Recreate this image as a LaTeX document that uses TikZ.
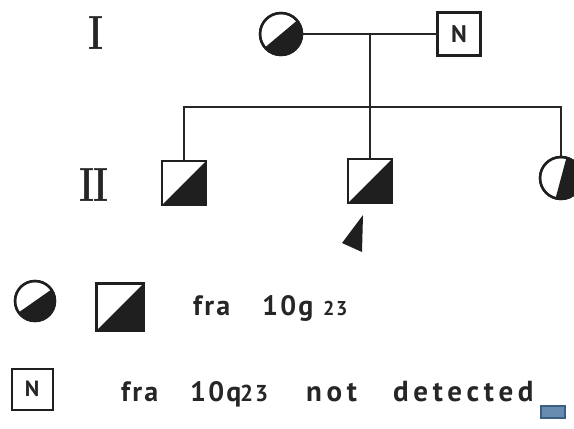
\documentclass[tikz,border=0pt]{standalone}
\usepackage{fontspec}
\newfontfamily\lgfont{PT Sans}[LetterSpace=8]
\newfontfamily\lgwide{PT Sans}[LetterSpace=16]
\definecolor{markfill}{RGB}{104,140,176}
\definecolor{markline}{RGB}{60,96,132}
\begin{document}
\begin{tikzpicture}[x=1pt,y=-1pt,
  ink/.style={black!88},
  sq/.style={draw=black!88,line width=2.4pt,minimum size=44pt,inner sep=0pt,outer sep=0pt},
  circ/.style={draw=black!88,line width=2.4pt,circle,minimum size=42pt,inner sep=0pt,outer sep=0pt},
  conn/.style={draw=black!85,line width=1.8pt},
  lbl/.style={font=\lgfont\bfseries\fontsize{28}{30}\selectfont,text=black!85,anchor=base west,inner sep=0pt},
  lbw/.style={font=\lgwide\bfseries\fontsize{29}{30}\selectfont,text=black!85,anchor=base west,inner sep=0pt},
  sml/.style={font=\lgfont\bfseries\fontsize{20}{22}\selectfont,text=black!85,anchor=base west,inner sep=0pt},
  gen/.style={font=\bfseries\fontsize{48}{48}\selectfont,text=black!85,xscale=0.75,inner sep=0pt},
  nlbl/.style={font=\lgfont\bfseries\fontsize{24}{24}\selectfont,text=black!85}
]
\useasboundingbox (0,0) rectangle (574,429);
\clip (0,0) rectangle (574,429);

% generation labels
\node[gen] (g1) at (96,33) {I};
\node[gen] (g2) at (94,185) {I\kern-1.5ptI};

% generation I
\node[circ] (mo) at (281,34) {};
\fill[ink] (mo.40) arc[start angle=40,end angle=-140,radius=21pt] -- cycle;
\node[circ] at (281,34) {};
\node[sq,minimum size=43pt] (fa) at (459,34) {};
\node[nlbl] at (fa) {N};
\coordinate (mm) at (370,34);
\draw[conn] (mo.east) -- (fa.west);

% generation II
\node[sq] (c1) at (184,183) {};
\node[sq] (c2) at (370,181) {};
\node[circ] (c3) at (561,178) {};
\fill[ink] (c1.south west) -- (c1.south east) -- (c1.north east) -- cycle;
\node[sq] at (184,183) {};
\fill[ink] (c2.south west) -- (c2.south east) -- (c2.north east) -- cycle;
\node[sq] at (370,181) {};
\fill[ink] (c3.75) arc[start angle=75,end angle=-105,radius=21pt] -- cycle;
\node[circ] at (561,178) {};

\coordinate (sib) at (370,107);
\draw[conn] (mm) -- (c2.north);
\draw[conn] (c1.north) -- (c1.north |- sib) -- (c3.north |- sib) -- (c3.north);

% proband arrow
\fill[ink] (363,215) -- (342,243) -- (362,252) -- cycle;

% legend
\node[circ,minimum size=40pt] (lc) at (35,301) {};
\fill[ink] (lc.35) arc[start angle=35,end angle=-145,radius=20pt] -- cycle;
\node[circ,minimum size=40pt] at (35,301) {};
\node[sq,minimum size=47pt] (ls) at (120,307) {};
\fill[ink] (ls.south west) -- (ls.south east) -- (ls.north east) -- cycle;
\node[sq,minimum size=47pt] at (120,307) {};

\node[lbl] (t1a) at (193,315) {fra};
\node[lbl] (t1b) at (262,315) {10g};
\node[sml] (t1c) at (323,315) {23};

\node[sq,minimum size=41pt,line width=2pt] (ln) at (32,389) {};
\node[nlbl,font=\lgfont\bfseries\fontsize{22}{22}\selectfont] at (ln) {N};
\node[lbl] (t2a) at (121,401) {fra};
\node[lbl] (t2b) at (190,401) {10q};
\node[sml,font=\lgfont\bfseries\fontsize{23}{24}\selectfont] (t2c) at (240,401) {23};
\node[lbw] (t2d) at (306,401) {not};
\node[lbw] (t2e) at (393,401) {detected};

% small blue mark
\node[draw=markline,fill=markfill,line width=1.2pt,minimum width=24pt,minimum height=12pt,inner sep=0pt] (bm) at (553,412) {};
\end{tikzpicture}
\end{document}
